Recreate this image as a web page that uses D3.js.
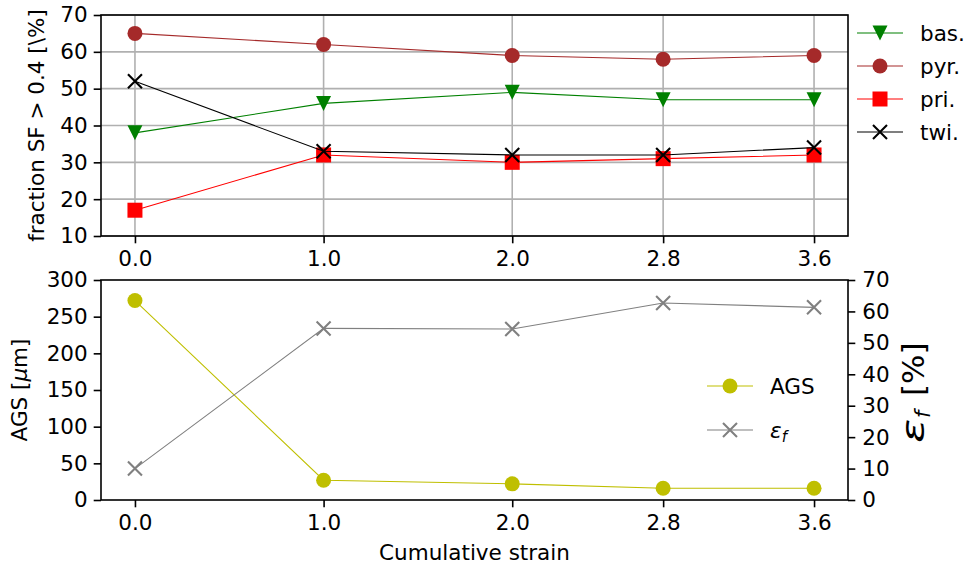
<!DOCTYPE html>
<html>
<head>
<meta charset="utf-8">
<script src="https://cdn.jsdelivr.net/npm/d3@7"></script>
<style>
  body { margin: 0; background: #fff; }
  svg { display: block; font-family: "DejaVu Sans", sans-serif; }
</style>
</head>
<body>
<svg id="chart" width="969" height="571"></svg>
<script>
// Cumulative strain steps
const strain = [0.0, 1.0, 2.0, 2.8, 3.6];
const strainTicks = ["0.0", "1.0", "2.0", "2.8", "3.6"];

// Fraction of grains with Schmid factor > 0.4 per slip/twin system [%]
const bas = [38, 46, 49, 47, 47];
const pyr = [65, 62, 59, 58, 59];
const pri = [17, 32, 30, 31, 32];
const twi = [52, 33, 32, 32, 34];

// Average grain size [µm] and elongation to failure [%]
const ags = [272, 27, 22, 16, 16];
const epsf = [10, 54.6, 54.4, 62.7, 61.3];

const sfTicks = [10, 20, 30, 40, 50, 60, 70];
const agsTicks = [0, 50, 100, 150, 200, 250, 300];
const epsTicks = [0, 10, 20, 30, 40, 50, 60, 70];

const svg = d3.select("#chart");
const FS = 21.5;
const left = 101, right = 848;
const top1 = { y0: 15, y1: 236 };
const top2 = { y0: 280, y1: 500 };

const x = d3.scaleLinear().domain([-0.18, 3.78]).range([left, right]);
const ySF = d3.scaleLinear().domain([10, 70]).range([top1.y1, top1.y0]);
const yAGS = d3.scaleLinear().domain([0, 300]).range([top2.y1, top2.y0]);
const yEps = d3.scaleLinear().domain([0, 70]).range([top2.y1, top2.y0]);

// marker path generators centred on the origin
const M = 15;
const markers = {
  tri: s => `M${-s/2},${-s/2}L${s/2},${-s/2}L0,${s/2}Z`,
  circle: s => d3.symbol(d3.symbolCircle, Math.PI * (s/2) * (s/2))(),
  square: s => `M${-s/2},${-s/2}h${s}v${s}h${-s}Z`,
  cross: s => `M${-s/2},${-s/2}L${s/2},${s/2}M${-s/2},${s/2}L${s/2},${-s/2}`
};

function styleAxis(g) {
  g.selectAll(".domain").remove();
  g.selectAll(".tick line").attr("stroke", "#000").attr("stroke-width", 1.6);
  g.selectAll(".tick text").attr("font-size", FS).attr("font-family", "DejaVu Sans").attr("fill", "#000");
}

// ---------- top panel ----------
const p1 = svg.append("g");

// grid
p1.append("g").selectAll("line.gx").data(strain).join("line")
  .attr("x1", d => x(d)).attr("x2", d => x(d))
  .attr("y1", top1.y0).attr("y2", top1.y1)
  .attr("stroke", "#b0b0b0").attr("stroke-width", 1.6);
p1.append("g").selectAll("line.gy").data(sfTicks).join("line")
  .attr("x1", left).attr("x2", right)
  .attr("y1", d => ySF(d)).attr("y2", d => ySF(d))
  .attr("stroke", "#b0b0b0").attr("stroke-width", 1.6);

const sfSeries = [
  { name: "bas.", vals: bas, color: "#008000", marker: "tri" },
  { name: "pyr.", vals: pyr, color: "#a52a2a", marker: "circle" },
  { name: "pri.", vals: pri, color: "#ff0000", marker: "square" },
  { name: "twi.", vals: twi, color: "#000000", marker: "cross" }
];

const line1 = d3.line().x((d, i) => x(strain[i])).y(d => ySF(d));

function drawMarker(g, type, color, cx, cy, size) {
  const p = g.append("path").attr("d", markers[type](size))
    .attr("transform", `translate(${cx},${cy})`);
  if (type === "cross") p.attr("fill", "none").attr("stroke", color).attr("stroke-width", 2.1);
  else p.attr("fill", color).attr("stroke", "none");
}

sfSeries.forEach(s => {
  p1.append("path").datum(s.vals).attr("d", line1)
    .attr("fill", "none").attr("stroke", s.color).attr("stroke-width", 1.1);
  s.vals.forEach((v, i) => drawMarker(p1, s.marker, s.color, x(strain[i]), ySF(v), s.marker === "cross" ? 14 : M));
});

// axes frame
p1.append("rect").attr("x", left).attr("y", top1.y0)
  .attr("width", right - left).attr("height", top1.y1 - top1.y0)
  .attr("fill", "none").attr("stroke", "#000").attr("stroke-width", 1.6);

const ax1 = p1.append("g").attr("transform", `translate(0,${top1.y1})`)
  .call(d3.axisBottom(x).tickValues(strain).tickFormat((d, i) => strainTicks[i]).tickSize(7.3).tickPadding(7));
styleAxis(ax1);
const ay1 = p1.append("g").attr("transform", `translate(${left},0)`)
  .call(d3.axisLeft(ySF).tickValues(sfTicks).tickFormat(d3.format("d")).tickSize(7.3).tickPadding(6));
styleAxis(ay1);

p1.append("text")
  .attr("transform", `translate(44,${(top1.y0 + top1.y1) / 2}) rotate(-90)`)
  .attr("text-anchor", "middle").attr("font-size", FS)
  .text("fraction SF > 0.4 [\\%]");

// legend (top)
const lg1 = p1.append("g");
sfSeries.forEach((s, i) => {
  const cy = 33 + i * 33;
  lg1.append("line").attr("x1", 857).attr("x2", 903).attr("y1", cy).attr("y2", cy)
    .attr("stroke", s.color).attr("stroke-width", 1.1);
  drawMarker(lg1, s.marker, s.color, 880, cy, s.marker === "cross" ? 14 : M);
  lg1.append("text").attr("x", 920).attr("y", cy + 7.5).attr("font-size", FS).text(s.name);
});

// ---------- bottom panel ----------
const p2 = svg.append("g");
const lineAGS = d3.line().x((d, i) => x(strain[i])).y(d => yAGS(d));
const lineEps = d3.line().x((d, i) => x(strain[i])).y(d => yEps(d));

p2.append("path").datum(ags).attr("d", lineAGS)
  .attr("fill", "none").attr("stroke", "#bfbf00").attr("stroke-width", 1.1);
ags.forEach((v, i) => drawMarker(p2, "circle", "#bfbf00", x(strain[i]), yAGS(v), M));

p2.append("path").datum(epsf).attr("d", lineEps)
  .attr("fill", "none").attr("stroke", "#808080").attr("stroke-width", 1.1);
epsf.forEach((v, i) => drawMarker(p2, "cross", "#808080", x(strain[i]), yEps(v), 14));

p2.append("rect").attr("x", left).attr("y", top2.y0)
  .attr("width", right - left).attr("height", top2.y1 - top2.y0)
  .attr("fill", "none").attr("stroke", "#000").attr("stroke-width", 1.6);

const ax2 = p2.append("g").attr("transform", `translate(0,${top2.y1})`)
  .call(d3.axisBottom(x).tickValues(strain).tickFormat((d, i) => strainTicks[i]).tickSize(7.3).tickPadding(7));
styleAxis(ax2);
const ay2 = p2.append("g").attr("transform", `translate(${left},0)`)
  .call(d3.axisLeft(yAGS).tickValues(agsTicks).tickFormat(d3.format("d")).tickSize(7.3).tickPadding(6));
styleAxis(ay2);
const ay3 = p2.append("g").attr("transform", `translate(${right},0)`)
  .call(d3.axisRight(yEps).tickValues(epsTicks).tickFormat(d3.format("d")).tickSize(7.3).tickPadding(7));
styleAxis(ay3);

// left label: AGS [µm]
const lab2 = p2.append("text")
  .attr("transform", `translate(27,${(top2.y0 + top2.y1) / 2}) rotate(-90)`)
  .attr("text-anchor", "middle").attr("font-size", FS);
lab2.append("tspan").text("AGS [");
lab2.append("tspan").attr("font-style", "italic").text("\u03bc");
lab2.append("tspan").text("m]");

// right label: ε_f [%], laid out along the rotated axis starting at the bottom
const lab3 = p2.append("g").attr("transform", `translate(924,443) rotate(-90)`);
lab3.append("text").attr("font-size", 31).attr("font-style", "italic")
  .attr("transform", "scale(1.45,1)").text("\u03b5");
lab3.append("text").attr("x", 25).attr("y", 6).attr("font-size", 21).attr("font-style", "italic").text("f");
lab3.append("text").attr("x", 47).attr("font-size", 31).text("[%]");

// x label
svg.append("text").attr("x", (left + right) / 2).attr("y", 560)
  .attr("text-anchor", "middle").attr("font-size", FS).text("Cumulative strain");

// legend (bottom)
const lg2 = p2.append("g");
[
  { color: "#bfbf00", marker: "circle", cy: 386 },
  { color: "#808080", marker: "cross", cy: 430 }
].forEach(s => {
  lg2.append("line").attr("x1", 707).attr("x2", 753).attr("y1", s.cy).attr("y2", s.cy)
    .attr("stroke", s.color).attr("stroke-width", 1.1);
  drawMarker(lg2, s.marker, s.color, 730, s.cy, s.marker === "cross" ? 14 : M);
});
lg2.append("text").attr("x", 770).attr("y", 386 + 7.5).attr("font-size", FS).text("AGS");
const eLab = lg2.append("text").attr("x", 770).attr("y", 430 + 7.5).attr("font-size", FS);
eLab.append("tspan").attr("font-style", "italic").text("\u03b5");
eLab.append("tspan").attr("font-style", "italic").attr("font-size", 15).attr("dy", 4.5).text("f");
</script>
</body>
</html>
